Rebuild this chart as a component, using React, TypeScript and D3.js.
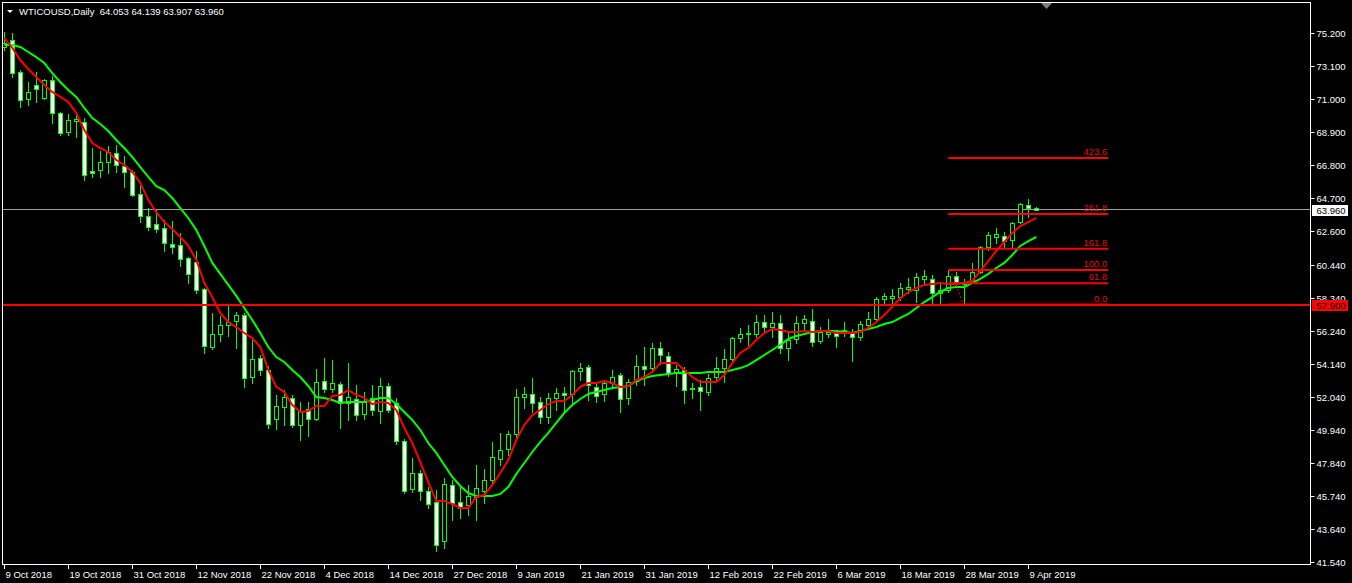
import { useEffect, useRef } from "react";
import * as d3 from "d3";

const SYMBOL = "WTICOUSD,Daily";

const OPEN = [
  74.31, 74.76, 72.74, 71.0, 71.89, 71.05, 72.21, 70.11, 68.9, 69.6,
  69.54, 66.42, 66.49, 67.0, 67.57, 66.76, 66.36, 64.96, 63.58, 63.05,
  62.8, 61.78, 61.72, 60.89, 60.64, 58.92, 55.23, 56.06, 56.63, 56.88,
  57.26, 53.32, 54.52, 53.77, 50.65, 51.41, 51.99, 50.27, 51.29, 50.65,
  53.07, 52.56, 52.88, 51.67, 51.92, 50.97, 51.99, 51.16, 52.75, 51.67,
  49.25, 46.2, 47.22, 46.07, 45.37, 42.89, 46.45, 45.37, 45.18, 45.69,
  46.07, 46.77, 48.11, 48.74, 49.7, 52.05, 52.24, 51.73, 50.78, 51.99,
  52.3, 52.24, 53.7, 53.96, 52.69, 52.24, 52.94, 53.45, 51.99, 53.07,
  54.02, 53.89, 55.16, 54.66, 53.64, 53.77, 52.62, 52.69, 52.37, 53.32,
  53.89, 54.47, 55.8, 56.1, 56.06, 56.82, 56.5, 56.76, 55.16, 55.74,
  56.76, 56.88, 55.61, 56.06, 56.12, 56.12, 56.12, 55.87, 56.63, 57.01,
  58.28, 58.35, 58.41, 58.92, 58.86, 59.56, 59.56, 58.66, 58.86, 59.75,
  59.24, 59.36, 60.0, 61.59, 62.23, 62.29, 62.03, 63.18, 64.26, 64.053,
];
const HIGH = [
  75.26, 75.2, 72.85, 72.1, 72.74, 72.28, 72.47, 70.2, 70.05, 69.99,
  69.8, 67.89, 67.7, 68.01, 68.08, 67.38, 66.49, 65.47, 64.07, 63.94,
  63.31, 63.24, 62.48, 60.95, 61.34, 58.98, 57.39, 57.2, 57.9, 57.45,
  57.39, 55.68, 54.72, 54.02, 52.18, 52.49, 52.18, 51.73, 51.73, 53.83,
  54.52, 54.4, 53.0, 54.21, 52.81, 52.37, 52.81, 53.26, 52.94, 51.99,
  49.38, 48.17, 47.41, 46.33, 46.14, 46.9, 46.77, 46.45, 46.45, 47.73,
  47.47, 49.19, 49.76, 49.89, 52.56, 52.68, 53.26, 52.05, 52.3, 52.62,
  52.68, 53.77, 54.21, 54.09, 53.0, 53.13, 53.77, 53.58, 53.19, 54.72,
  55.23, 55.48, 55.54, 54.91, 54.09, 53.96, 52.94, 53.13, 53.51, 54.59,
  55.1, 55.87, 56.44, 56.63, 57.26, 57.26, 57.45, 57.26, 56.18, 57.2,
  57.26, 57.64, 56.5, 57.01, 56.18, 56.82, 56.37, 56.88, 57.45, 58.41,
  58.66, 58.92, 59.3, 59.62, 59.93, 60.13, 59.81, 59.3, 60.13, 60.0,
  59.56, 60.57, 61.65, 62.54, 62.8, 62.54, 63.18, 64.39, 64.64, 64.139,
];
const LOW = [
  74.12, 72.4, 70.49, 70.62, 70.83, 70.98, 69.5, 68.71, 68.71, 68.59,
  65.85, 66.04, 66.04, 66.3, 66.36, 65.4, 64.83, 63.2, 62.67, 62.54,
  61.35, 61.21, 60.38, 59.3, 58.66, 54.85, 55.1, 55.61, 55.93, 55.17,
  52.69, 52.94, 53.45, 50.08, 50.01, 50.27, 50.14, 49.31, 49.57, 50.59,
  52.37, 52.37, 50.08, 50.59, 50.59, 50.65, 50.91, 50.4, 51.09, 49.06,
  45.94, 46.01, 45.48, 44.99, 42.25, 42.45, 44.23, 44.36, 44.55, 44.23,
  45.31, 46.58, 47.73, 48.36, 49.5, 51.35, 51.09, 50.4, 50.4, 51.22,
  51.09, 51.67, 53.13, 51.85, 51.73, 51.8, 52.69, 51.09, 51.6, 52.81,
  52.81, 53.64, 54.15, 53.38, 52.75, 51.67, 51.99, 51.22, 52.18, 53.0,
  53.0, 54.21, 55.54, 55.35, 55.87, 56.18, 55.87, 54.85, 54.4, 55.48,
  56.31, 55.29, 55.48, 55.87, 55.23, 55.93, 54.34, 55.68, 56.44, 56.82,
  58.03, 57.97, 58.21, 58.66, 58.09, 59.3, 58.03, 58.03, 58.73, 59.05,
  57.95, 59.3, 59.94, 61.4, 61.84, 61.59, 61.59, 63.11, 63.5, 63.907,
];
const CLOSE = [
  74.57, 72.66, 70.94, 71.47, 71.64, 72.21, 70.09, 68.84, 69.67, 69.73,
  66.17, 66.3, 67.0, 67.63, 66.81, 66.38, 64.89, 63.58, 62.88, 62.73,
  61.84, 61.59, 60.83, 59.87, 58.86, 55.29, 56.06, 56.63, 56.82, 57.26,
  53.26, 54.47, 53.77, 50.33, 51.48, 52.05, 50.27, 51.16, 50.65, 53.0,
  52.56, 52.94, 51.67, 52.05, 50.91, 51.73, 51.22, 52.75, 51.22, 49.25,
  46.07, 47.22, 46.07, 45.24, 42.64, 46.52, 45.31, 44.99, 45.75, 46.26,
  46.77, 48.23, 48.68, 49.7, 52.05, 52.24, 51.67, 50.78, 51.99, 52.3,
  52.18, 53.7, 53.89, 52.81, 52.11, 52.94, 53.32, 51.92, 53.0, 54.02,
  53.83, 55.16, 54.72, 53.58, 53.83, 52.49, 52.56, 52.43, 53.26, 53.89,
  54.47, 55.8, 56.06, 56.14, 56.82, 56.5, 56.76, 55.16, 55.68, 56.76,
  57.01, 55.54, 56.18, 56.18, 55.93, 56.31, 55.87, 56.69, 57.01, 58.28,
  58.47, 58.47, 58.98, 59.05, 59.68, 59.75, 58.66, 58.86, 59.75, 59.36,
  59.36, 60.0, 61.59, 62.35, 62.42, 61.97, 63.11, 64.32, 64.07, 63.96,
];

// moving averages (red = fast, green = slow)
const MA_FAST = [
  74.88, 74.25, 73.48, 72.91, 72.4, 71.89, 71.45, 71.13, 70.81, 70.11,
  69.03, 68.2, 67.88, 67.63, 67.12, 66.8, 66.36, 65.66, 64.57, 63.81,
  63.17, 62.73, 62.22, 61.65, 60.76, 59.29, 58.4, 57.38, 56.81, 56.49,
  56.11, 55.79, 55.22, 53.76, 52.68, 52.36, 51.53, 51.08, 51.15, 51.47,
  51.47, 52.1, 52.17, 52.48, 52.17, 51.98, 51.59, 51.72, 51.66, 51.21,
  50.07, 49.11, 47.9, 46.63, 45.42, 45.42, 45.23, 44.98, 44.98, 45.68,
  45.8, 46.44, 47.2, 48.03, 49.3, 50.26, 50.89, 51.21, 51.59, 51.78,
  51.78, 52.17, 52.68, 52.93, 52.93, 53.06, 52.93, 52.68, 52.74, 53.12,
  53.31, 53.63, 54.2, 54.2, 54.2, 53.76, 53.31, 53.0, 53.0, 53.0,
  53.44, 54.2, 54.84, 55.16, 55.67, 56.11, 56.37, 56.3, 56.17, 56.17,
  56.24, 56.17, 56.24, 56.24, 56.11, 56.11, 56.11, 56.17, 56.43, 56.81,
  57.26, 57.77, 58.34, 58.72, 58.97, 59.17, 59.23, 59.29, 59.23, 59.23,
  59.29, 59.42, 60.06, 60.69, 61.33, 61.9, 62.47, 62.92, 63.17, 63.43,
];
const MA_SLOW = [
  74.44, 74.44, 74.31, 73.99, 73.67, 73.29, 72.65, 72.08, 71.57, 71.13,
  70.43, 69.79, 69.41, 68.96, 68.39, 67.88, 67.31, 66.67, 66.04, 65.46,
  65.21, 64.7, 64.06, 63.43, 62.66, 61.65, 60.57, 59.87, 59.17, 58.47,
  57.7, 56.94, 56.11, 55.22, 54.58, 54.27, 53.76, 53.31, 52.74, 52.04,
  51.98, 51.85, 51.66, 51.72, 51.72, 51.72, 51.85, 51.98, 51.98, 51.59,
  51.08, 50.58, 49.94, 49.11, 48.48, 47.71, 46.95, 46.38, 45.93, 45.74,
  45.74, 45.74, 45.87, 46.31, 47.14, 47.84, 48.54, 49.18, 49.75, 50.39,
  51.02, 51.53, 51.91, 52.23, 52.36, 52.48, 52.61, 52.68, 52.74, 53.06,
  53.25, 53.38, 53.44, 53.5, 53.57, 53.57, 53.57, 53.57, 53.63, 53.63,
  53.63, 53.76, 53.88, 54.07, 54.39, 54.71, 55.03, 55.35, 55.73, 55.92,
  56.05, 56.17, 56.24, 56.24, 56.24, 56.17, 56.11, 56.24, 56.37, 56.49,
  56.68, 56.81, 57.07, 57.32, 57.7, 58.08, 58.4, 58.72, 58.97, 59.04,
  59.04, 59.29, 59.55, 59.87, 60.25, 60.57, 61.07, 61.65, 61.96, 62.22,
];

const PRICE_TICKS = [
  "75.200", "73.100", "71.000", "68.900", "66.800", "64.700", "62.600", "60.440",
  "58.340", "56.240", "54.140", "52.040", "49.940", "47.840", "45.740", "43.640", "41.540",
];
const DATE_LABELS = [
  "9 Oct 2018", "19 Oct 2018", "31 Oct 2018", "12 Nov 2018", "22 Nov 2018", "4 Dec 2018",
  "14 Dec 2018", "27 Dec 2018", "9 Jan 2019", "21 Jan 2019", "31 Jan 2019", "12 Feb 2019",
  "22 Feb 2019", "6 Mar 2019", "18 Mar 2019", "28 Mar 2019", "9 Apr 2019",
];
const DATE_STEP = 8;

const FIB_LEVELS = [0, 61.8, 100, 161.8, 261.8, 423.6];
const FIB_LABELS = ["0.0", "61.8", "100.0", "161.8", "261.8", "423.6"];
const FIB_ZERO = 57.92;
const FIB_HUNDRED = 60.12;
const FIB_BARS = [118, 138];

const HLINE_PRICE = 57.9;
const BID = 63.96;

const FONT = "'Liberation Sans', Arial, sans-serif";

const WtiChart = () => {
  const svgRef = useRef<SVGSVGElement>(null);

  useEffect(() => {
    if (!svgRef.current) return;
    const width = 1352;
    const height = 583;
    const plot = { left: 3, top: 3, right: 1310, bottom: 564 };

    const svg = d3.select(svgRef.current);
    svg.selectAll("*").remove();
    svg.attr("width", width).attr("height", height);

    svg.append("rect").attr("width", width).attr("height", height).attr("fill", "#000");

    const x = d3.scaleLinear().domain([0, CLOSE.length - 1]).range([4.3, 1036.3]);
    const y = d3.scaleLinear().domain([41.54, 75.2]).range([562, 33]);

    svg
      .append("clipPath")
      .attr("id", "plot-clip")
      .append("rect")
      .attr("x", plot.left)
      .attr("y", plot.top)
      .attr("width", plot.right - plot.left)
      .attr("height", plot.bottom - plot.top);

    const body = svg.append("g").attr("clip-path", "url(#plot-clip)");

    // bid line
    const bidY = Math.round(y(BID)) - 0.5;
    body
      .append("line")
      .attr("x1", plot.left)
      .attr("x2", plot.right)
      .attr("y1", bidY)
      .attr("y2", bidY)
      .attr("stroke", "#a0a0a0")
      .attr("stroke-width", 1);

    // candles
    const bars = d3.range(CLOSE.length).map((i) => ({
      i,
      o: OPEN[i],
      h: HIGH[i],
      l: LOW[i],
      c: CLOSE[i],
    }));
    const cx = (i: number) => Math.round(x(i));

    body
      .append("g")
      .selectAll("line")
      .data(bars)
      .join("line")
      .attr("x1", (d) => cx(d.i) + 0.5)
      .attr("x2", (d) => cx(d.i) + 0.5)
      .attr("y1", (d) => Math.round(y(d.h)))
      .attr("y2", (d) => Math.round(y(d.l)) + 1)
      .attr("stroke", "#00ff00")
      .attr("stroke-width", 1);

    body
      .append("g")
      .selectAll("rect")
      .data(bars)
      .join("rect")
      .attr("x", (d) => cx(d.i) - 1.5)
      .attr("y", (d) => Math.round(y(Math.max(d.o, d.c))) + 0.5)
      .attr("width", 4)
      .attr("height", (d) =>
        Math.max(1, Math.round(y(Math.min(d.o, d.c))) - Math.round(y(Math.max(d.o, d.c))))
      )
      .attr("fill", (d) => (d.c < d.o ? "#ffffff" : "#000000"))
      .attr("stroke", "#00ff00")
      .attr("stroke-width", 1);

    // moving averages
    const line = d3
      .line<number>()
      .x((_, i) => x(i))
      .y((d) => y(d));

    body
      .append("path")
      .attr("d", line(MA_SLOW))
      .attr("fill", "none")
      .attr("stroke", "#00ff00")
      .attr("stroke-width", 2);

    body
      .append("path")
      .attr("d", line(MA_FAST))
      .attr("fill", "none")
      .attr("stroke", "#ff0000")
      .attr("stroke-width", 2);

    // horizontal level
    body
      .append("line")
      .attr("x1", plot.left)
      .attr("x2", plot.right)
      .attr("y1", y(HLINE_PRICE))
      .attr("y2", y(HLINE_PRICE))
      .attr("stroke", "#ff0000")
      .attr("stroke-width", 2);

    // fibonacci expansion
    const fibPrice = (lvl: number) => FIB_ZERO + ((FIB_HUNDRED - FIB_ZERO) * lvl) / 100;
    const fx0 = x(FIB_BARS[0]);
    const fx1 = x(FIB_BARS[1]);
    body
      .append("line")
      .attr("x1", x(FIB_BARS[0]) + 2)
      .attr("x2", x(FIB_BARS[0] + 2) - 1)
      .attr("y1", y(FIB_HUNDRED))
      .attr("y2", y(FIB_ZERO))
      .attr("stroke", "#ff0000")
      .attr("stroke-width", 1)
      .attr("stroke-dasharray", "2,2");

    const fib = body.append("g");
    FIB_LEVELS.forEach((lvl, k) => {
      const fy = y(fibPrice(lvl));
      fib
        .append("line")
        .attr("x1", fx0)
        .attr("x2", fx1)
        .attr("y1", fy)
        .attr("y2", fy)
        .attr("stroke", "#ff0000")
        .attr("stroke-width", 2);
      fib
        .append("text")
        .attr("x", fx1 - 1)
        .attr("y", fy - 3)
        .attr("text-anchor", "end")
        .attr("fill", "#e01010")
        .attr("font-family", FONT)
        .attr("font-size", "9.5px")
        .text(FIB_LABELS[k]);
    });

    // frame
    svg
      .append("rect")
      .attr("x", plot.left - 0.5)
      .attr("y", plot.top - 0.5)
      .attr("width", plot.right - plot.left + 1)
      .attr("height", plot.bottom - plot.top + 1)
      .attr("fill", "none")
      .attr("stroke", "#ffffff")
      .attr("stroke-width", 1);

    // price axis
    const axisX = plot.right + 0.5;
    const yAxis = svg.append("g");
    PRICE_TICKS.forEach((t) => {
      const ty = Math.round(y(+t)) + 0.5;
      yAxis
        .append("line")
        .attr("x1", axisX)
        .attr("x2", axisX + 4)
        .attr("y1", ty)
        .attr("y2", ty)
        .attr("stroke", "#ffffff");
      yAxis
        .append("text")
        .attr("x", axisX + 6)
        .attr("y", ty)
        .attr("dy", "0.35em")
        .attr("fill", "#ffffff")
        .attr("font-family", FONT)
        .attr("font-size", "9.5px")
        .text(t);
    });

    const priceTag = (price: number, bg: string, fg: string) => {
      const ty = y(price);
      const g = svg.append("g");
      g.append("rect")
        .attr("x", axisX + 1.5)
        .attr("y", Math.round(ty) - 5)
        .attr("width", 36)
        .attr("height", 11)
        .attr("fill", bg);
      g.append("text")
        .attr("x", axisX + 6)
        .attr("y", Math.round(ty) + 0.5)
        .attr("dy", "0.35em")
        .attr("fill", fg)
        .attr("font-family", FONT)
        .attr("font-size", "9.5px")
        .text(price.toFixed(3));
    };
    priceTag(BID, "#ffffff", "#000000");
    priceTag(HLINE_PRICE, "#ff0000", "#000000");

    // time axis
    const xAxis = svg.append("g");
    DATE_LABELS.forEach((lab, k) => {
      const tx = cx(k * DATE_STEP) + 0.5;
      xAxis
        .append("line")
        .attr("x1", tx)
        .attr("x2", tx)
        .attr("y1", plot.bottom + 0.5)
        .attr("y2", plot.bottom + 5)
        .attr("stroke", "#ffffff");
      xAxis
        .append("text")
        .attr("x", tx + 1)
        .attr("y", 578)
        .attr("fill", "#ffffff")
        .attr("font-family", FONT)
        .attr("font-size", "9.5px")
        .text(lab);
    });

    // header
    svg
      .append("path")
      .attr("d", "M7,10 L13,10 L10,13 Z")
      .attr("fill", "#ffffff");
    const last = CLOSE.length - 1;
    svg
      .append("text")
      .attr("x", 19)
      .attr("y", 15)
      .attr("fill", "#ffffff")
      .attr("font-family", FONT)
      .attr("font-size", "9.5px")
      .attr("xml:space", "preserve")
      .style("white-space", "pre")
      .text(
        `${SYMBOL}  ${OPEN[last].toFixed(3)} ${HIGH[last].toFixed(3)} ${LOW[last].toFixed(3)} ${CLOSE[last].toFixed(3)}`
      );

    // chart shift marker
    svg
      .append("path")
      .attr("d", "M1041,3 L1052,3 L1046.5,9 Z")
      .attr("fill", "#808080");
  }, []);

  return (
    <svg
      ref={svgRef}
      style={{ position: "fixed", left: 0, top: 0, display: "block", background: "#000" }}
    />
  );
};

export default function App() {
  return <WtiChart />;
}
